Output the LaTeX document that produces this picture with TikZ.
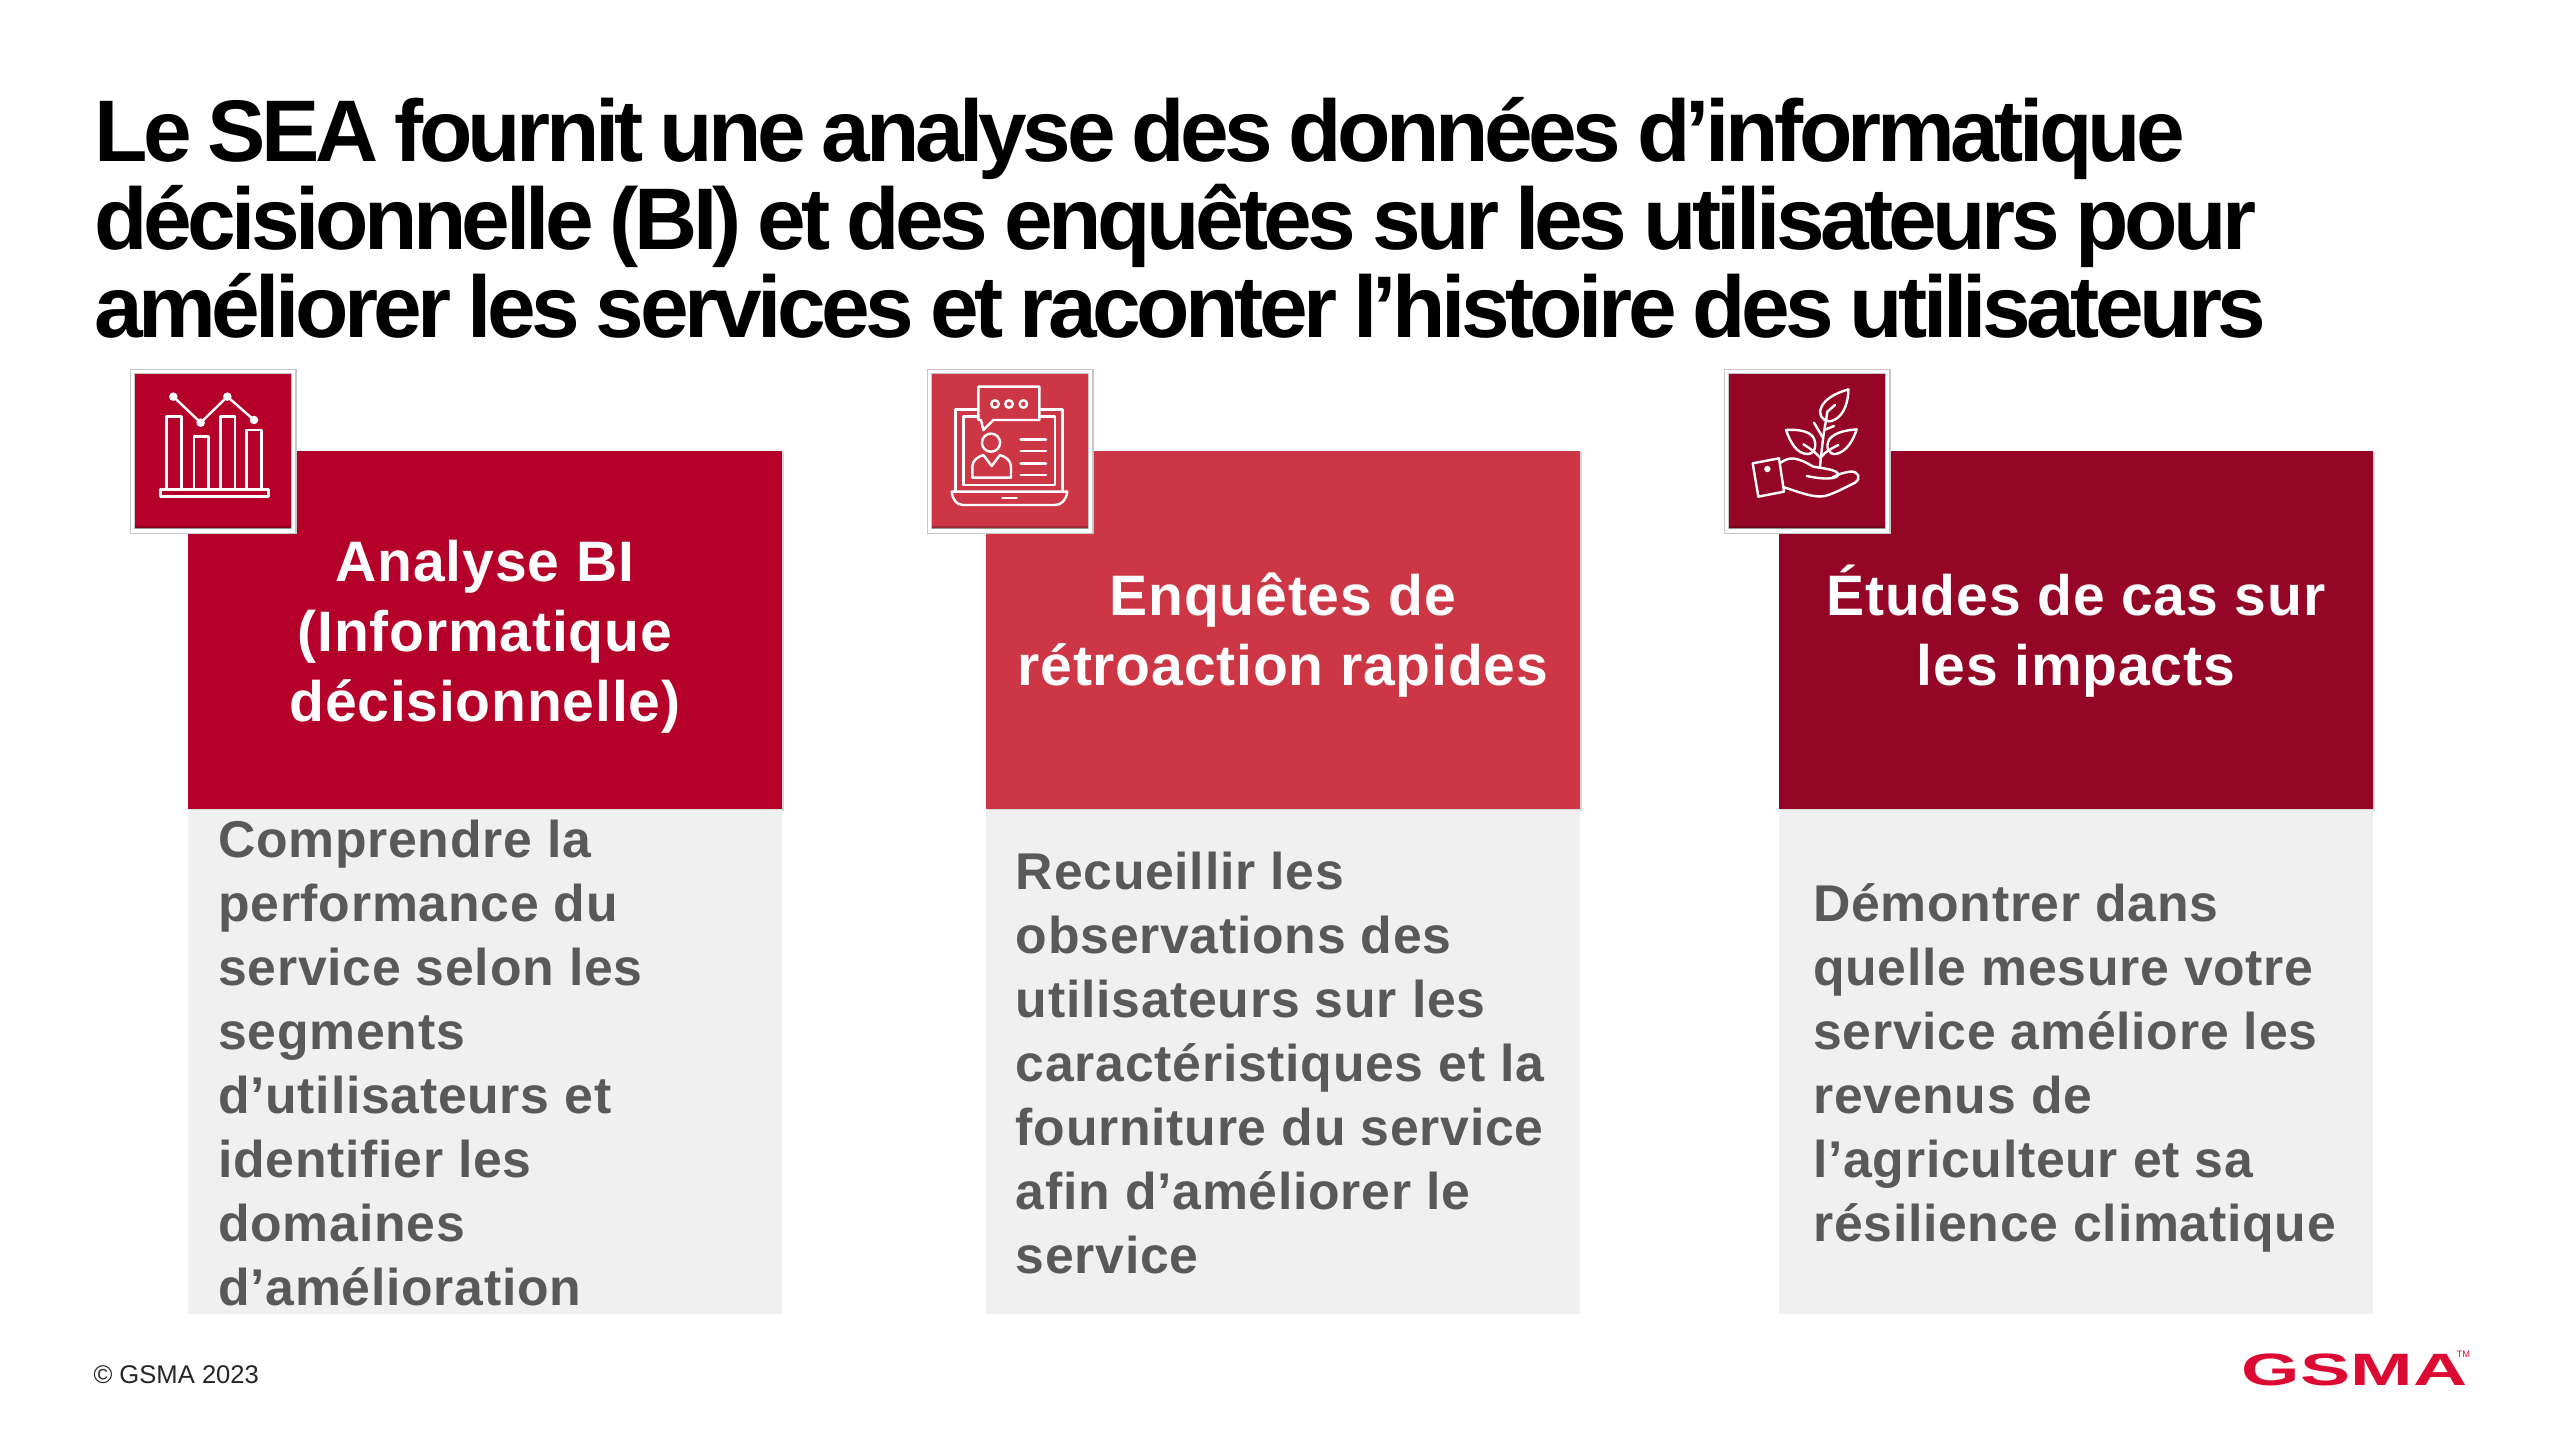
\documentclass[tikz,border=0pt]{standalone}
\usepackage{fontspec}
\setmainfont{Liberation Sans}
\newfontfamily\titlefont[LetterSpace=-5.2,WordSpace=0.8]{Liberation Sans}
\newfontfamily\bodyfont[LetterSpace=1.4,WordSpace=1.25]{Liberation Sans}
\newfontfamily\headfont[LetterSpace=1.4]{Liberation Sans}
\usetikzlibrary{positioning,shadows}
\setlength{\lineskiplimit}{-30pt}
\definecolor{gsmared}{HTML}{B50029}
\definecolor{gsmalight}{HTML}{CD3745}
\definecolor{gsmadark}{HTML}{950626}
\definecolor{gsmalogo}{HTML}{DC0A32}
\definecolor{bodygrey}{HTML}{595959}
\definecolor{panelgrey}{HTML}{F0F0F0}
\tikzset{
    cardhead/.style={minimum width=223pt,minimum height=134.5pt,inner sep=0pt,anchor=north west,
        drop shadow={shadow xshift=0.6pt,shadow yshift=-0.6pt,opacity=0.3}},
    cardtitle/.style={text=white,align=center,font=\headfont\bfseries\fontsize{21.4}{26.3}\selectfont},
    cardpanel/.style={fill=panelgrey,minimum width=223pt,minimum height=189pt,inner sep=0pt},
    cardbody/.style={text=bodygrey,align=left,inner sep=0pt,anchor=west,font=\bodyfont\bfseries\fontsize{19.4}{24}\selectfont},
    iconbox/.style={draw=black!22,line width=0.4pt,double=white,double distance=1.4pt,minimum width=60.4pt,minimum height=59.8pt,inner sep=0pt,anchor=north west},
    iconline/.style={draw=white,line width=0.9pt,line join=round,line cap=round},
}
\begin{document}
\begin{tikzpicture}[x=0.375pt,y=-0.375pt]
    \useasboundingbox (0,0) rectangle (2560,1440);
    \fill[white] (0,0) rectangle (2560,1440);
    % title
    \node[anchor=north west,inner sep=0pt,align=left,font=\titlefont\bfseries\fontsize{32.8}{33}\selectfont] (headline) at (94,97)
        {Le SEA fournit une analyse des données d’informatique\\
         décisionnelle (BI) et des enquêtes sur les utilisateurs pour\\
         améliorer les services et raconter l’histoire des utilisateurs};
    % cards
    \node[cardhead,fill=gsmared] (heada) at (187,450) {};
    \node[cardhead,fill=gsmalight] (headb) at (985,450) {};
    \node[cardhead,fill=gsmadark] (headc) at (1778,450) {};
    \node[cardpanel,below=0pt of heada] (panela) {};
    \node[cardpanel,below=0pt of headb] (panelb) {};
    \node[cardpanel,below=0pt of headc] (panelc) {};
    \node[cardtitle,yshift=-2.5pt] (titlea) at (heada.center) {Analyse BI\\(Informatique\\décisionnelle)};
    \node[cardtitle,yshift=-1.9pt] (titleb) at (headb.center) {Enquêtes de\\rétroaction rapides};
    \node[cardtitle,yshift=-0.6pt] (titlec) at (headc.center) {Études de cas sur\\les impacts};
    \node[cardbody,right=11.5pt of panela.west,anchor=west,yshift=-0.4pt] (bodya)
        {Comprendre la\\performance du\\service selon les\\segments\\d’utilisateurs et\\identifier les\\domaines\\d’amélioration};
    \node[cardbody,right=11.4pt of panelb.west,anchor=west,yshift=-0.4pt] (bodyb)
        {Recueillir les\\observations des\\utilisateurs sur les\\caractéristiques et la\\fourniture du service\\afin d’améliorer le\\service};
    \node[cardbody,right=13pt of panelc.west,anchor=west,yshift=-2.2pt] (bodyc)
        {Démontrer dans\\quelle mesure votre\\service améliore les\\revenus de\\l’agriculteur et sa\\résilience climatique};
    % icons
    \node[iconbox,fill=gsmared] (icona) at (132,371) {};
    \node[iconbox,fill=gsmalight] (iconb) at (929,371) {};
    \node[iconbox,fill=gsmadark] (iconc) at (1726,371) {};
    \foreach \nm in {icona,iconb,iconc}
        \draw[black,opacity=0.25,line width=1pt] ([xshift=1pt,yshift=1.4pt]\nm.south west) -- ([xshift=-1pt,yshift=1.4pt]\nm.south east);
    \begin{scope}[shift={(110,350)},x=0.125pt,y=-0.125pt,iconline]
        \draw (170,418) rectangle (215,200);
        \draw (252,418) rectangle (295,260);
        \draw (332,418) rectangle (375,200);
        \draw (410,418) rectangle (455,240);
        \draw (152,418) rectangle (475,440);
        \draw (190,140) -- (272,218) -- (352,140) -- (432,210);
        \foreach \px/\py in {190/140,272/218,352/140,432/210}
            \fill[white] (\px,\py) circle (1.6pt);
    \end{scope}
    \begin{scope}[shift={(910,350)},x=0.125pt,y=-0.125pt,iconline]
        \draw (205,110) -- (388,110) -- (388,210) -- (250,210) -- (220,240) -- (213,210) -- (205,210) -- cycle;
        \foreach \px in {255,297,340}
            \draw (\px,162) circle (1.4pt);
        \draw (205,178) -- (137,178) -- (137,422);
        \draw (388,178) -- (457,178) -- (457,422);
        \draw (205,200) -- (160,200) -- (160,405) -- (435,405) -- (435,200) -- (388,200);
        \draw (125,425) -- (472,425) .. controls (468,450) and (455,465) .. (435,465) -- (160,465) .. controls (140,465) and (128,450) .. (125,425) -- cycle;
        \draw (277,444) -- (320,444);
        \draw (243,278) circle (3.4pt);
        \draw (187,383) -- (187,350) .. controls (187,330) and (205,320) .. (220,315) -- (245,348) -- (270,315) .. controls (285,320) and (303,330) .. (303,350) -- (303,383) -- cycle;
        \foreach \py in {268,303,340,375}
            \draw (332,\py) -- (408,\py);
    \end{scope}
    \begin{scope}[shift={(1710,350)},x=0.125pt,y=-0.125pt,iconline]
        \draw (128,340) -- (207,325) -- (222,425) -- (145,440) -- cycle;
        \fill[white] (172,357) circle (1.2pt);
        \draw (212,338) .. controls (240,318) and (262,322) .. (310,350) .. controls (335,355) and (385,358) .. (385,375) .. controls (375,392) and (320,385) .. (290,378);
        \draw (222,412) .. controls (265,425) and (310,445) .. (345,438) .. controls (375,430) and (410,410) .. (435,398) .. controls (455,385) and (445,362) .. (420,365) .. controls (405,367) and (385,372) .. (368,382);
        \draw (330,350) .. controls (335,300) and (340,250) .. (348,212);
        \draw (415,118) .. controls (375,130) and (335,150) .. (330,185) .. controls (330,205) and (350,222) .. (372,210) .. controls (405,195) and (415,150) .. (415,118) -- cycle;
        \draw (348,212) -- (352,185) -- (375,165);
        \draw (228,240) .. controls (255,238) and (295,240) .. (310,262) .. controls (322,285) and (315,312) .. (292,312) .. controls (260,312) and (240,275) .. (228,240) -- cycle;
        \draw (332,325) .. controls (320,310) and (300,295) .. (280,283);
        \draw (440,238) .. controls (415,240) and (375,245) .. (358,268) .. controls (345,290) and (355,315) .. (378,312) .. controls (410,305) and (430,270) .. (440,238) -- cycle;
        \draw (335,320) .. controls (345,305) and (365,295) .. (385,285);
        \draw (338,262) -- (312,218);
        \draw (342,240) -- (372,228);
    \end{scope}
    % footer
    \node[anchor=west,inner sep=0pt,font=\fontsize{9.6}{12}\selectfont,text=black!85] (copyright) at (93,1375) {© GSMA 2023};
    \node[anchor=base west,inner sep=0pt,text=gsmalogo,font=\bfseries\fontsize{17}{17}\selectfont,xscale=1.657] (logo) at (2241,1385) {GSMA};
    \node[anchor=north west,inner sep=0pt,text=gsmalogo,font=\fontsize{3.5}{4}\selectfont] (logotm) at (2456,1351) {TM};
\end{tikzpicture}
\end{document}
